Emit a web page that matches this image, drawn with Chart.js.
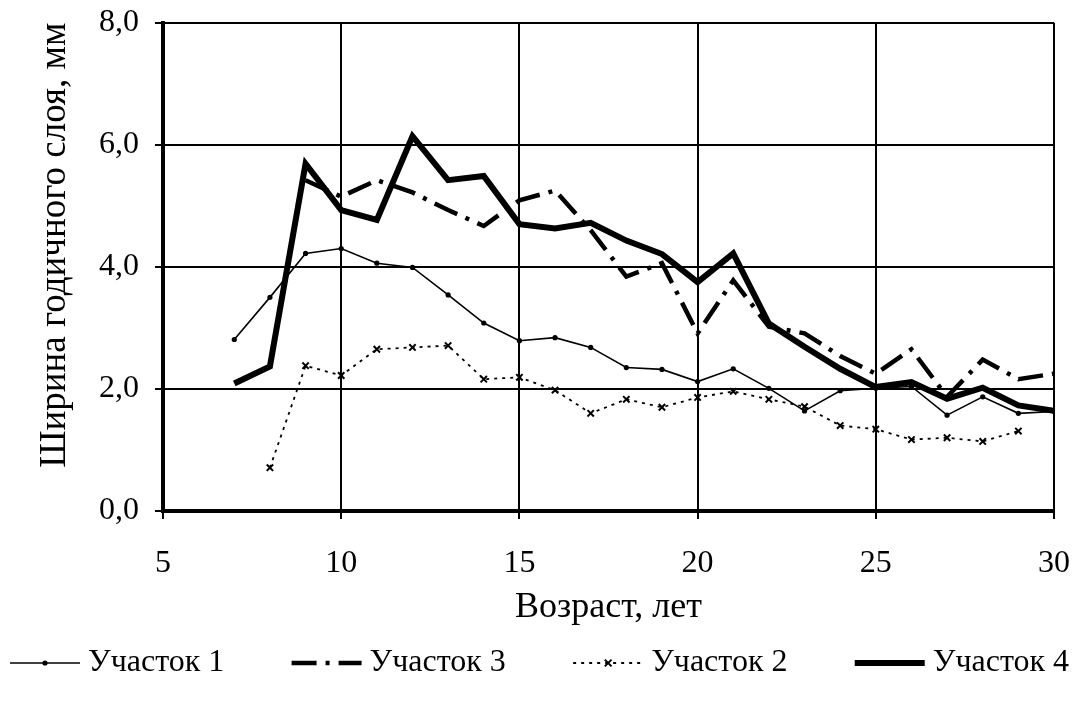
<!DOCTYPE html>
<html>
<head>
<meta charset="utf-8">
<script src="https://cdn.jsdelivr.net/npm/chart.js@4/dist/chart.umd.min.js"></script>
<style>
  html, body { margin: 0; padding: 0; background: #fff; }
  #wrap { width: 1081px; height: 705px; position: relative; }
</style>
</head>
<body>
<div id="wrap"><canvas id="chart"></canvas></div>
<script>
// Ages (years) and annual ring width (mm) for each plot
const ages = [7, 8, 9, 10, 11, 12, 13, 14, 15, 16, 17, 18, 19, 20, 21, 22, 23, 24, 25, 26, 27, 28, 29, 30];
const plot1 = [2.81, 3.50, 4.22, 4.30, 4.06, 3.99, 3.54, 3.08, 2.79, 2.84, 2.68, 2.35, 2.32, 2.12, 2.33, 2.01, 1.64, 1.97, 2.01, 2.04, 1.57, 1.87, 1.60, 1.63];
const plot2 = [null, 0.71, 2.38, 2.22, 2.65, 2.68, 2.71, 2.16, 2.19, 1.98, 1.60, 1.83, 1.70, 1.86, 1.96, 1.83, 1.71, 1.40, 1.34, 1.17, 1.20, 1.14, 1.31, null];
const plot3 = [null, null, 5.42, 5.15, 5.42, 5.22, 4.93, 4.67, 5.09, 5.25, 4.60, 3.84, 4.06, 2.91, 3.78, 3.02, 2.91, 2.54, 2.25, 2.65, 1.87, 2.48, 2.16, 2.25];
const plot4 = [2.09, 2.37, 5.69, 4.93, 4.77, 6.14, 5.42, 5.49, 4.70, 4.63, 4.72, 4.43, 4.21, 3.75, 4.22, 3.07, 2.69, 2.33, 2.03, 2.11, 1.84, 2.02, 1.73, 1.64];

const seriesNames = ['Участок 1', 'Участок 3', 'Участок 2', 'Участок 4'];
const xTicks = [5, 10, 15, 20, 25, 30];
const yTicks = [0, 2, 4, 6, 8];

const FONT = 'Liberation Serif';
const pts = vals => ages.map((a, i) => ({ x: a, y: vals[i] }));

// Legend drawn as one row under the axis title: line sample, marker, label
const legendRow = {
  id: 'legendRow',
  afterDraw(chart) {
    const ctx = chart.ctx;
    const dsets = chart.data.datasets;
    ctx.save();
    ctx.font = '32px "' + FONT + '"';
    const iconW = 70, gapIT = 8;
    const widths = dsets.map(ds => iconW + gapIT + ctx.measureText(ds.label).width);
    const span = chart.width - 22;
    const total = widths.reduce((s, w) => s + w, 0);
    const gap = (span - total) / (dsets.length - 1);
    let x = (chart.width - span) / 2 - 1;
    const y = chart.height - 42;
    dsets.forEach((ds, i) => {
      ctx.save();
      ctx.strokeStyle = '#000';
      ctx.lineWidth = ds.borderWidth;
      ctx.setLineDash(ds.borderDash || []);
      ctx.beginPath();
      ctx.moveTo(x, y);
      ctx.lineTo(x + iconW, y);
      ctx.stroke();
      ctx.setLineDash([]);
      const cx = x + iconW / 2;
      if (ds.pointRadius > 0) {
        if (ds.pointStyle === 'crossRot') {
          const r = ds.pointRadius * 0.75;
          ctx.lineWidth = ds.pointBorderWidth;
          ctx.beginPath();
          ctx.moveTo(cx - r, y - r); ctx.lineTo(cx + r, y + r);
          ctx.moveTo(cx + r, y - r); ctx.lineTo(cx - r, y + r);
          ctx.stroke();
        } else {
          ctx.fillStyle = '#000';
          ctx.beginPath();
          ctx.arc(cx, y, ds.pointRadius, 0, Math.PI * 2);
          ctx.fill();
        }
      }
      ctx.restore();
      ctx.fillStyle = '#000';
      ctx.textBaseline = 'middle';
      ctx.textAlign = 'left';
      ctx.fillText(ds.label, x + iconW + gapIT, y);
      x += widths[i] + gap;
    });
    ctx.restore();
  }
};

new Chart(document.getElementById('chart'), {
  type: 'line',
  data: {
    datasets: [
      {
        label: seriesNames[0], data: pts(plot1), order: 1,
        borderColor: '#000', backgroundColor: '#000', borderWidth: 1.6,
        pointStyle: 'circle', pointRadius: 2.6, pointBorderWidth: 0, pointBackgroundColor: '#000'
      },
      {
        label: seriesNames[1], data: pts(plot3), order: 3,
        borderColor: '#000', borderWidth: 4.5, borderDash: [25, 9, 4, 9],
        pointRadius: 0
      },
      {
        label: seriesNames[2], data: pts(plot2), order: 2,
        borderColor: '#000', borderWidth: 1.8, borderDash: [3, 5],
        pointStyle: 'crossRot', pointRadius: 4.5, pointBorderWidth: 2, pointBorderColor: '#000'
      },
      {
        label: seriesNames[3], data: pts(plot4), order: 0,
        borderColor: '#000', borderWidth: 6,
        pointRadius: 0
      }
    ]
  },
  options: {
    responsive: true,
    maintainAspectRatio: false,
    animation: false,
    spanGaps: false,
    layout: { padding: { top: 22.7, right: 27, bottom: 76, left: 0 } },
    plugins: { legend: { display: false }, tooltip: { enabled: false } },
    elements: { line: { tension: 0, borderJoinStyle: 'miter', borderCapStyle: 'butt' } },
    scales: {
      x: {
        type: 'linear', min: 5, max: 30,
        afterBuildTicks: s => { s.ticks = xTicks.map(v => ({ value: v })); },
        afterFit: s => { s.height = 118; s.paddingLeft = 0; s.paddingRight = 0; },
        ticks: { color: '#000', padding: 25, font: { family: FONT, size: 32 } },
        grid: { color: '#000', lineWidth: 2, tickLength: 8, drawTicks: true },
        border: { color: '#000', width: 4 },
        title: { display: true, text: 'Возраст, лет', color: '#000', padding: 0, font: { family: FONT, size: 36 } }
      },
      y: {
        min: 0, max: 8,
        afterBuildTicks: s => { s.ticks = yTicks.map(v => ({ value: v })); },
        afterFit: s => { s.width = 163; s.paddingTop = 0; s.paddingBottom = 0; },
        ticks: {
          color: '#000', padding: 16, font: { family: FONT, size: 32 },
          callback: v => v.toFixed(1).replace('.', ',')
        },
        grid: { color: '#000', lineWidth: 2, tickLength: 8, drawTicks: true },
        border: { color: '#000', width: 4 },
        title: {
          display: true, text: 'Ширина годичного слоя, мм', align: 'end', color: '#000',
          padding: { top: 33, bottom: 0 }, font: { family: FONT, size: 37 }
        }
      }
    }
  },
  plugins: [legendRow]
});
</script>
</body>
</html>
